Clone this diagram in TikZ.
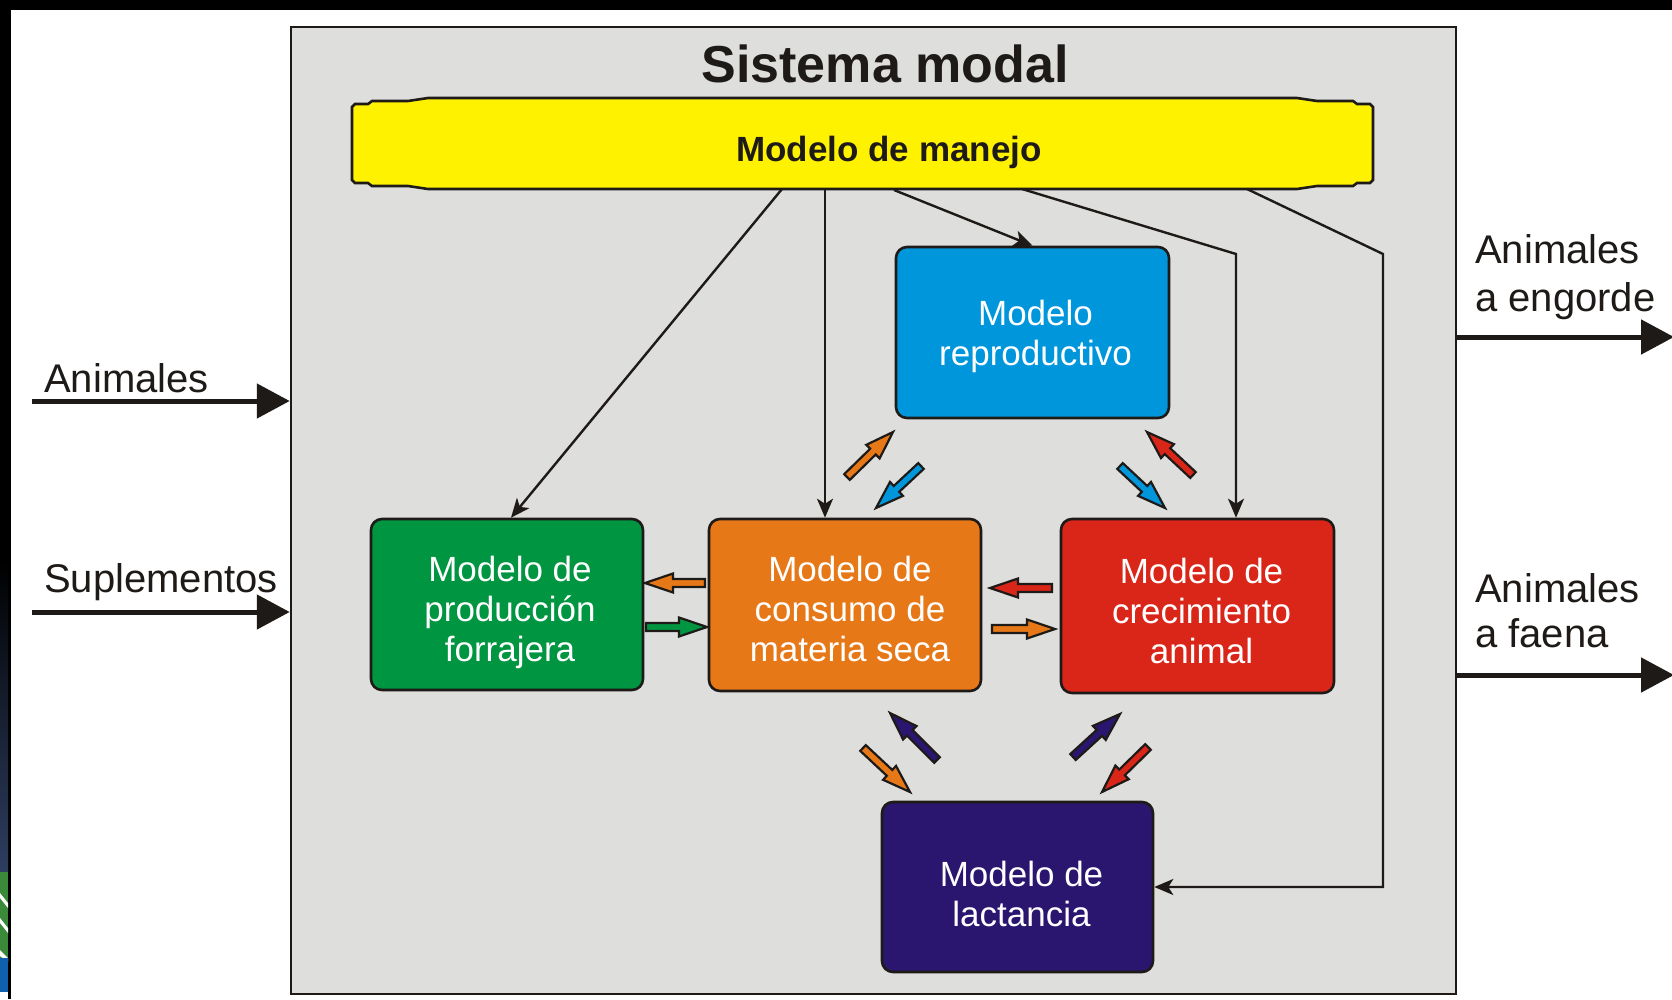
\documentclass[tikz,border=0pt]{standalone}
\usepackage{fontspec}
\setmainfont{Liberation Sans}
\usetikzlibrary{arrows.meta,calc}
\definecolor{cgray}{HTML}{DEDEDC}
\definecolor{cyellow}{HTML}{FFF200}
\definecolor{cblue}{HTML}{0096DB}
\definecolor{cgreen}{HTML}{009540}
\definecolor{corange}{HTML}{E77817}
\definecolor{cred}{HTML}{DA2519}
\definecolor{cnavy}{HTML}{2A166F}
\definecolor{cdark}{HTML}{1E1A17}
\definecolor{clogo}{HTML}{2E3E60}
\definecolor{clogog}{HTML}{3A8A3A}
\definecolor{clogob}{HTML}{1060B0}
\newcommand\blockarr[3]{%
  \path let \p1=(#2), \p2=(#3), \n1={atan2(\y2-\y1,\x2-\x1)}, \n2={veclen(\x2-\x1,\y2-\y1)} in
    \pgfextra{\xdef\baang{\n1}\xdef\balen{\n2}\xdef\bax{\x1}\xdef\bay{\y1}};
  \begin{scope}[shift={(\bax,\bay)}, rotate=\baang]
    \filldraw[barrow, fill=#1] (0pt,-4pt) -- (\balen-28pt,-4pt) -- (\balen-28pt,-9.5pt)
      -- (\balen,0pt) -- (\balen-28pt,9.5pt) -- (\balen-28pt,4pt) -- (0pt,4pt) -- cycle;
  \end{scope}}
\begin{document}
\begin{tikzpicture}[x=1pt,y=-1pt,
  mbox/.style={draw=cdark, line width=2.6pt, rounded corners=11pt, inner sep=0pt},
  btxt/.style={text=white, align=center, inner sep=0pt, font=\fontsize{35}{40}\selectfont},
  conn/.style={draw=cdark, line width=2.4pt, -{Stealth[length=19pt,width=16pt,inset=5pt]}},
  bigarr/.style={draw=cdark, line width=5pt, -{Triangle[length=33pt,width=34pt]}},
  barrow/.style={draw=cdark, line width=2.2pt, line join=miter},
  lbl/.style={text=cdark, inner sep=0pt, font=\fontsize{40}{47}\selectfont}]
\useasboundingbox (0,0) rectangle (1672,999);
\fill[white] (0,0) rectangle (1672,999);
% frame
\fill[black] (0,0) rectangle (1672,10);
\fill[black] (0,0) rectangle (11,999);
\shade[top color=black, bottom color=clogo] (0,560) rectangle (8,872);
\fill[clogog] (0,872) rectangle (8,958);
\fill[white] (0,893) -- (8,903) -- (8,908) -- (0,898) -- cycle;
\fill[white] (0,918) -- (8,928) -- (8,933) -- (0,923) -- cycle;
\fill[white] (0,950) -- (8,958) -- (8,962) -- (0,956) -- cycle;
\fill[clogob] (0,958) rectangle (8,992);
\fill[white] (0,992) rectangle (8,999);
% system box
\node[draw=cdark, fill=cgray, line width=2.5pt, minimum width=1165pt, minimum height=967pt, inner sep=0pt] (sys) at (873.5,510.5) {};
\node[anchor=base, text=cdark, inner sep=0pt, font=\fontsize{52}{60}\selectfont\bfseries] (title) at (885,82) {Sistema modal};
% management model
\filldraw[fill=cyellow, draw=cdark, line width=2.6pt]
  (352,107) -- (355,104) -- (368,104) -- (372,101) -- (408,101) -- (428,98) -- (1297,98)
  -- (1317,101) -- (1353,101) -- (1357,104) -- (1370,104) -- (1373,107) -- (1373,180)
  -- (1370,183) -- (1357,183) -- (1353,186) -- (1317,186) -- (1297,189) -- (428,189)
  -- (408,186) -- (372,186) -- (368,183) -- (355,183) -- (352,180) -- cycle;
\node[anchor=base, text=cdark, inner sep=0pt, font=\fontsize{35}{40}\selectfont\bfseries] (manejo) at (889,161) {Modelo de manejo};
% models
\node[mbox, fill=cblue, minimum width=273pt, minimum height=171pt] (repr) at (1032.5,332.5) {};
\node[mbox, fill=cgreen, minimum width=272pt, minimum height=171pt] (forr) at (507,604.5) {};
\node[mbox, fill=corange, minimum width=272pt, minimum height=172pt] (cons) at (845,605) {};
\node[mbox, fill=cred, minimum width=273pt, minimum height=174pt] (crec) at (1197.5,606) {};
\node[mbox, fill=cnavy, minimum width=271pt, minimum height=170pt] (lact) at (1017.5,887) {};
\node[btxt] (repr-t) at ($(repr.center)+(3,4)$) {Modelo\\reproductivo};
\node[btxt] (forr-t) at ($(forr.center)+(3,7.5)$) {Modelo de\\producción\\forrajera};
\node[btxt] (cons-t) at ($(cons.center)+(5,3.5)$) {Modelo de\\consumo de\\materia seca};
\node[btxt] (crec-t) at ($(crec.center)+(4,4.5)$) {Modelo de\\crecimiento\\animal};
\node[btxt] (lact-t) at ($(lact.center)+(4,7)$) {Modelo de\\lactancia};
% connectors from management
\coordinate (m1) at (782,189);
\coordinate (m2) at (825,189);
\coordinate (m3) at (894,190);
\coordinate (m4) at (1022,189);
\coordinate (m5) at (1247,189);
\coordinate (k4) at (1236,254);
\coordinate (k5) at (1383,254);
\draw[conn] (m1) -- ([xshift=4pt]forr.north);
\draw[conn] (m2) -- (m2 |- cons.north);
\draw[conn] (m3) -- (repr.north);
\draw[conn] (m4) -- (k4) -- (k4 |- crec.north);
\draw[conn] (m5) -- (k5) -- (k5 |- lact.east) -- (lact.east);
% block arrows
\coordinate (a1t) at (847,477);  \coordinate (a1h) at (893,432);
\coordinate (a2t) at (921,466);  \coordinate (a2h) at (876,508);
\coordinate (a3t) at (1120,466); \coordinate (a3h) at (1165,508);
\coordinate (a4t) at (1193,475); \coordinate (a4h) at (1147,432);
\coordinate (a5t) at (705,583);  \coordinate (a5h) at (645,583);
\coordinate (a6t) at (646,627);  \coordinate (a6h) at (707,627);
\coordinate (a7t) at (1052,588); \coordinate (a7h) at (990,588);
\coordinate (a8t) at (992,629);  \coordinate (a8h) at (1055,629);
\coordinate (a9t) at (863,748);  \coordinate (a9h) at (910,792);
\coordinate (a10t) at (937,760); \coordinate (a10h) at (890,713);
\coordinate (a11t) at (1073,757);\coordinate (a11h) at (1120,714);
\coordinate (a12t) at (1148,747);\coordinate (a12h) at (1102,792);
\blockarr{corange}{a1t}{a1h}
\blockarr{cblue}{a2t}{a2h}
\blockarr{cblue}{a3t}{a3h}
\blockarr{cred}{a4t}{a4h}
\blockarr{corange}{a5t}{a5h}
\blockarr{cgreen}{a6t}{a6h}
\blockarr{cred}{a7t}{a7h}
\blockarr{corange}{a8t}{a8h}
\blockarr{corange}{a9t}{a9h}
\blockarr{cnavy}{a10t}{a10h}
\blockarr{cnavy}{a11t}{a11h}
\blockarr{cred}{a12t}{a12h}
% inputs
\coordinate (inA) at (32,401);
\coordinate (inS) at (32,612);
\draw[bigarr] (inA) -- (inA -| sys.west);
\draw[bigarr] (inS) -- (inS -| sys.west);
\node[lbl, anchor=base west] (lA) at (44,392) {Animales};
\node[lbl, anchor=base west] (lS) at (44,592) {Suplementos};
% outputs
\coordinate (outE) at (1674,337);
\coordinate (outF) at (1674,675);
\draw[bigarr] (outE -| sys.east) -- (outE);
\draw[bigarr] (outF -| sys.east) -- (outF);
\node[lbl, anchor=base west] (lE1) at (1475,263) {Animales};
\node[lbl, anchor=base west] (lE2) at (1475,311) {a engorde};
\node[lbl, anchor=base west] (lF1) at (1475,602) {Animales};
\node[lbl, anchor=base west] (lF2) at (1475,647) {a faena};
\end{tikzpicture}
\end{document}
